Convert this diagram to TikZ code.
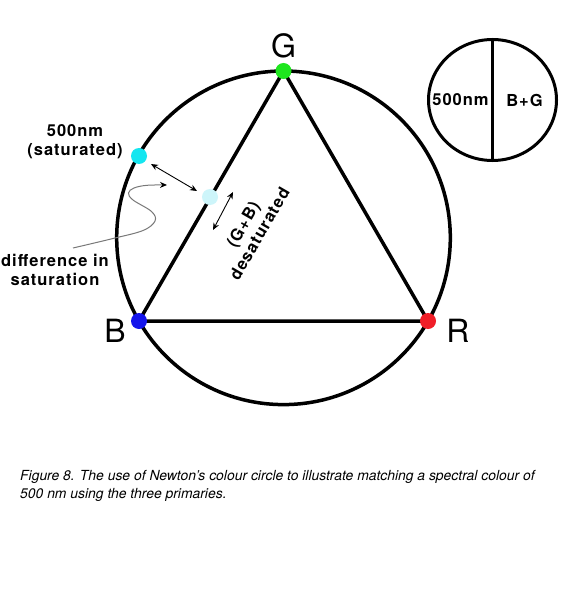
\documentclass[tikz,border=0pt]{standalone}
\usepackage{fontspec}
\setmainfont{TeX Gyre Heros}
\newfontfamily\lblfam[LetterSpace=6]{TeX Gyre Heros}
\usetikzlibrary{arrows.meta,shapes.geometric}
\definecolor{gdot}{RGB}{30,230,30}
\definecolor{bdot}{RGB}{20,20,235}
\definecolor{rdot}{RGB}{240,30,40}
\definecolor{cdot}{RGB}{20,230,240}
\definecolor{pdot}{RGB}{205,245,250}
\definecolor{curvegray}{RGB}{120,120,120}
\begin{document}
\begin{tikzpicture}[x=1pt,y=-1pt,
  ring/.style={line width=3.5pt, line join=round},
  dot/.style={circle, inner sep=0pt, minimum size=16pt},
  lbl/.style={font=\lblfam\bfseries\fontsize{16.5}{19}\selectfont, align=center, inner sep=0pt},
  big/.style={font=\fontsize{32}{32}\selectfont, inner sep=0pt},
  dbl/.style={line width=0.9pt, {Stealth[length=7pt,width=6pt]}-{Stealth[length=7pt,width=6pt]}},
  gcurve/.style={draw=curvegray, line width=1pt, -{Stealth[length=7pt,width=6pt,color=black]}},
  captext/.style={font=\itshape\fontsize{13.9}{18}\selectfont, align=left, inner sep=0pt}
]
\useasboundingbox (0,0) rectangle (565,599);
\fill[white] (0,0) rectangle (565,599);
% geometry
\coordinate (O) at (283.5,237.8);
\coordinate (G) at (283.5,71);
\coordinate (B) at (139,321);
\coordinate (R) at (428,321);
\draw[ring] (O) circle[radius=166.8];
\draw[ring] (G) -- (B) -- (R) -- cycle;
% dots
\node[dot, fill=gdot] (Gd) at (G) {};
\node[dot, fill=bdot] (Bd) at (B) {};
\node[dot, fill=rdot] (Rd) at (R) {};
\node[dot, fill=cdot] (Sd) at (139,156) {};
\node[dot, fill=pdot] (Pd) at (210,197) {};
% vertex labels
\node[big] (Gl) at (283.5,46) {G};
\node[big] (Bl) at (115,331) {B};
\node[big] (Rl) at (458,331) {R};
% texts
\node[lbl] (sat) at (75,142) {500nm\\(saturated)};
\node[lbl] (diff) at (55,270) {difference in\\saturation};
\node[lbl, rotate=60] (des) at (251,229) {(G+B)\\desaturated};
% arrows
\coordinate (a1) at (151,164);
\coordinate (a2) at (197,191);
\draw[dbl] (a1) -- (a2);
\coordinate (b1) at (233,192);
\coordinate (b2) at (213,230);
\draw[dbl] (b1) -- (b2);
\coordinate (c0) at (73,248);
\coordinate (c1) at (167,185);
\draw[gcurve] plot[smooth, tension=0.6] coordinates {(c0) (113,238.5) (143,230.5) (155,221) (151.5,211.5) (133,200) (128.5,193) (134,188) (147,185.3) (c1)};
% small circle
\node[draw, ellipse, line width=3pt, minimum width=128pt, minimum height=121pt, inner sep=0pt] (sc) at (492.5,100) {};
\draw[line width=2.5pt] (sc.north) -- (sc.south);
\node[lbl] (t500) at (460.5,100) {500nm};
\node[lbl] (tbg) at (524.5,100) {B+G};
% caption
\node[captext, anchor=north west] (capt) at (20,470) {Figure 8. The use of Newton's colour circle to illustrate matching a spectral colour of\\500 nm using the three primaries.};
\end{tikzpicture}
\end{document}
